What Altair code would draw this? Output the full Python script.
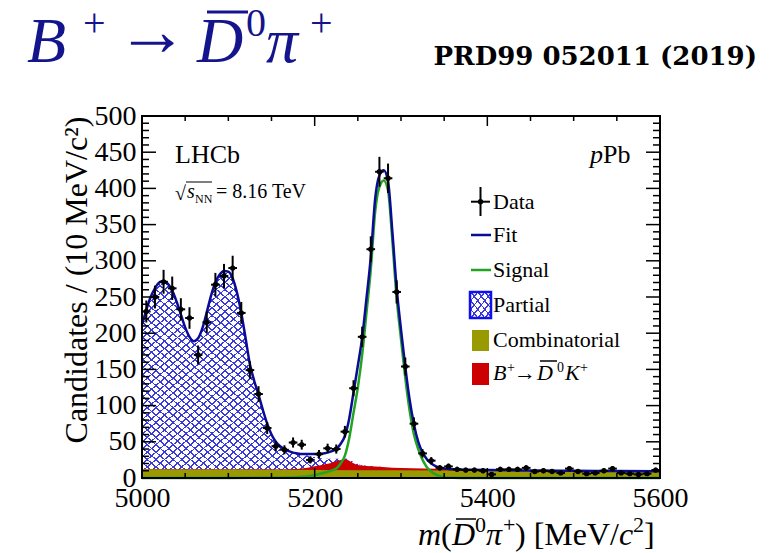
import altair as alt
import pandas as pd

# ---------------- values ----------------
bin_centre = [5005, 5015, 5025, 5035, 5045, 5055, 5065, 5075, 5085, 5095,
              5105, 5115, 5125, 5135, 5145, 5155, 5165, 5175, 5185, 5195,
              5205, 5215, 5225, 5235, 5245, 5255, 5265, 5275, 5285, 5295,
              5305, 5315, 5325, 5335, 5345, 5355, 5365, 5375, 5385, 5395,
              5405, 5415, 5425, 5435, 5445, 5455, 5465, 5475, 5485, 5495,
              5505, 5515, 5525, 5535, 5545, 5555, 5565, 5575, 5585, 5595]
counts = [230, 250, 271, 262, 233, 221, 170, 215, 267, 279,
          290, 228, 149, 116, 69, 44, 39, 49, 46, 25,
          33, 41, 40, 64, 124, 195, 316, 423, 414, 257,
          154, 75, 34, 24, 14, 16, 12, 11, 11, 10,
          5, 12, 12, 12, 14, 9, 10, 9, 7, 13,
          9, 6, 7, 10, 13, 7, 6, 5, 6, 11]
errors = [15.2, 15.8, 16.5, 16.2, 15.3, 14.9, 13.0, 14.7, 16.3, 16.7,
          17.0, 15.1, 12.2, 10.8, 8.3, 6.6, 6.2, 7.0, 6.8, 5.0,
          5.7, 6.4, 6.3, 8.0, 11.1, 14.0, 17.8, 20.6, 20.3, 16.0,
          12.4, 8.7, 5.8, 4.9, 3.7, 4.0, 3.5, 3.3, 3.3, 3.2,
          2.2, 3.5, 3.5, 3.5, 3.7, 3.0, 3.2, 3.0, 2.6, 3.6,
          3.0, 2.4, 2.6, 3.2, 3.6, 2.6, 2.4, 2.2, 2.4, 3.3]
half_bin = 5

fit_x = list(range(5000, 5361, 5)) + [5380, 5400, 5450, 5500, 5550, 5600]
fit_y = [212, 232, 250, 262, 270, 272, 268, 259, 244, 226,
         208, 195, 189, 193, 207, 229, 252, 270, 281, 286,
         285, 276, 256, 228, 193, 157, 134, 115, 94, 75,
         60, 50, 44, 40, 37, 35, 34, 33, 33, 33,
         33, 33, 34, 35, 37, 40, 47, 58, 82, 118,
         155, 194, 248, 305, 385, 418, 425, 410, 340, 262,
         205, 153, 108, 74, 50, 35, 26, 20, 16.5, 14.5,
         13.2, 12.5, 12.0,
         11.3, 10.9, 10.4, 10.0, 9.6, 9.3]

sig_x = [5000, 5100, 5150, 5170, 5180, 5190, 5200, 5210, 5220, 5225,
         5230, 5235, 5240, 5245, 5250, 5255, 5260, 5265, 5270, 5275,
         5280, 5285, 5290, 5295, 5300, 5305, 5310, 5315, 5320, 5325,
         5330, 5335, 5340, 5345, 5350, 5360, 5380, 5400, 5600]
sig_y = [0, 0.1, 0.4, 0.8, 1.2, 2, 4, 7, 10.5, 13,
         20, 31, 55, 90, 125, 170, 228, 288, 367, 402,
         411, 397, 328, 248, 192, 138, 93, 60, 40, 25,
         15, 9, 5, 2.5, 1.2, 0.3, 0, 0, 0]

part_x = list(range(5000, 5251, 5)) + [5260, 5270, 5280]
part_top = [212, 232, 250, 262, 270, 272, 268, 259, 244, 226,
            208, 195, 189, 193, 207, 229, 252, 270, 281, 286,
            285, 276, 256, 228, 193, 157, 134, 115, 94, 75,
            60, 50, 44, 40, 37, 34.5, 33, 32, 31, 30,
            29, 28, 27, 26.5, 26.5, 26.5, 27, 27, 25.5, 22,
            19.5, 17, 16, 15]

red_x = [5000, 5100, 5160, 5175, 5185, 5195, 5205, 5212, 5218, 5226,
         5234, 5238, 5242, 5248, 5255, 5265, 5275, 5290, 5313, 5340,
         5370, 5400, 5500, 5600]
red_top = [12.4, 12.0, 11.9, 12.3, 13.2, 15, 17.2, 19, 20.5, 23.5,
           26, 25.2, 22.3, 18.7, 17.3, 16.2, 15.4, 14.3, 13.6, 12.7,
           11.5, 10.8, 10.1, 9.5]

comb_x = [5000, 5100, 5200, 5300, 5400, 5500, 5600]
comb_top = [12, 11.6, 11.2, 10.8, 10.3, 9.8, 9.3]

x_labels = [5000, 5200, 5400, 5600]
y_labels = [0, 50, 100, 150, 200, 250, 300, 350, 400, 450, 500]
x_major_ticks = [5000, 5200, 5400, 5600]
x_minor_ticks = [v for v in range(5000, 5601, 50) if v not in x_major_ticks]
y_major_ticks = list(range(0, 501, 50))
y_minor_ticks = [v for v in range(0, 501, 10) if v % 50 != 0]

legend_rows = ["Data", "Fit", "Signal", "Partial", "Combinatorial"]

# ---------------- styling ----------------
W, H = 518, 362
SERIF = "Liberation Serif"
NAVY = "#0b0b96"
GREEN = "#22a322"
OLIVE = "#999900"
RED = "#cc0000"
HATCH = "#3a3ad8"
TITLE_C = "#14148c"
CLEAR = "rgba(255,255,255,0)"

XS = alt.Scale(domain=[5000, 5600], nice=False, zero=False)
YS = alt.Scale(domain=[0, 500], nice=False)
XAX = alt.Axis(values=x_labels, format="d", ticks=False, domain=False, grid=False,
               labelFont=SERIF, labelFontSize=28, labelColor="black", labelFlush=False,
               labelPadding=6, labelOverlap=False, title=None)
YAX = alt.Axis(values=y_labels, format="d", ticks=False, domain=False, grid=False,
               labelFont=SERIF, labelFontSize=28, labelColor="black", labelFlush=False,
               labelPadding=6, labelOverlap=False, title=None)


def X(f):
    return alt.X(f, type="quantitative", scale=XS, axis=XAX)


def Y(f):
    return alt.Y(f, type="quantitative", scale=YS, axis=YAX)


def hatch(n, frac, flip):
    stops = []
    for k in range(n):
        a = k / n
        b = (k + frac) / n
        stops += [alt.GradientStop(color=CLEAR, offset=a),
                  alt.GradientStop(color=HATCH, offset=a),
                  alt.GradientStop(color=HATCH, offset=b),
                  alt.GradientStop(color=CLEAR, offset=b)]
    if flip:
        return alt.LinearGradient(gradient="linear", stops=stops, x1=0, y1=1, x2=1, y2=0)
    return alt.LinearGradient(gradient="linear", stops=stops, x1=0, y1=0, x2=1, y2=1)


ONE = pd.DataFrame({"k": [0]})


def txt(s, x, y, size, style="normal", weight="normal", font=SERIF, color="black",
        align="left", angle=0):
    return alt.Chart(ONE).mark_text(text=s, align=align, baseline="alphabetic", font=font,
                                    fontSize=size, fontStyle=style, fontWeight=weight,
                                    color=color, angle=angle).encode(
        x=alt.value(x), y=alt.value(y))


def seg(x1, y1, x2, y2, color="black", width=2):
    return alt.Chart(ONE).mark_rule(color=color, strokeWidth=width).encode(
        x=alt.value(x1), y=alt.value(y1), x2=alt.value(x2), y2=alt.value(y2))


def box(x1, y1, x2, y2, fill, stroke=None, sw=0):
    kw = dict(fill=fill)
    if stroke is not None:
        kw.update(stroke=stroke, strokeWidth=sw)
    return alt.Chart(ONE).mark_rect(**kw).encode(
        x=alt.value(x1), y=alt.value(y1), x2=alt.value(x2), y2=alt.value(y2))


# ---------------- tables ----------------
data = pd.DataFrame({"m": bin_centre, "n": counts, "e": errors})
data["lo"] = data["n"] - data["e"]
data["hi"] = data["n"] + data["e"]
data["ml"] = data["m"] - half_bin
data["mh"] = data["m"] + half_bin

fit = pd.DataFrame({"m": fit_x, "v": fit_y})
sig = pd.DataFrame({"m": sig_x, "v": sig_y})
part = pd.DataFrame({"m": part_x, "v": part_top})
red = pd.DataFrame({"m": red_x, "v": red_top})
comb = pd.DataFrame({"m": comb_x, "v": comb_top})

layers = []
# partial background: cross-hatch made of two striped gradients
layers.append(alt.Chart(part).mark_area(color=hatch(56, 0.22, False), interpolate="monotone")
              .encode(x=X("m"), y=Y("v")))
layers.append(alt.Chart(part).mark_area(color=hatch(56, 0.22, True), interpolate="monotone")
              .encode(x=X("m"), y=Y("v")))
layers.append(alt.Chart(red).mark_area(color=RED, interpolate="monotone")
              .encode(x=X("m"), y=Y("v")))
layers.append(alt.Chart(comb).mark_area(color=OLIVE, interpolate="monotone")
              .encode(x=X("m"), y=Y("v")))
layers.append(alt.Chart(sig).mark_line(color=GREEN, strokeWidth=2.5, interpolate="monotone")
              .encode(x=X("m"), y=Y("v")))
layers.append(alt.Chart(fit).mark_line(color=NAVY, strokeWidth=2.5, interpolate="monotone")
              .encode(x=X("m"), y=Y("v")))
# data points
layers.append(alt.Chart(data).mark_rule(color="black", strokeWidth=2)
              .encode(x=X("m"), y=Y("lo"), y2="hi"))
layers.append(alt.Chart(data).mark_rule(color="black", strokeWidth=2)
              .encode(x=X("ml"), x2="mh", y=Y("n")))
layers.append(alt.Chart(data).mark_point(filled=True, shape="circle", size=28, color="black", opacity=1)
              .encode(x=X("m"), y=Y("n")))

# ticks (inward, on all four sides)
for vals, ln in [(x_major_ticks, 10), (x_minor_ticks, 5)]:
    t = pd.DataFrame({"t": vals})
    layers.append(alt.Chart(t).mark_rule(color="black", strokeWidth=1.5)
                  .encode(x=X("t"), y=alt.value(H), y2=alt.value(H - ln)))
    layers.append(alt.Chart(t).mark_rule(color="black", strokeWidth=1.5)
                  .encode(x=X("t"), y=alt.value(0), y2=alt.value(ln)))
for vals, ln in [(y_major_ticks, 14), (y_minor_ticks, 7)]:
    t = pd.DataFrame({"t": vals})
    layers.append(alt.Chart(t).mark_rule(color="black", strokeWidth=1.5)
                  .encode(y=Y("t"), x=alt.value(0), x2=alt.value(ln)))
    layers.append(alt.Chart(t).mark_rule(color="black", strokeWidth=1.5)
                  .encode(y=Y("t"), x=alt.value(W), x2=alt.value(W - ln)))
# frame
layers.append(box(0, 0, W, H, "transparent", "black", 2))

# ---------------- texts ----------------
# page title  B+ -> D0bar pi+
layers += [
    txt("B", -115, -54, 64, style="italic", color=TITLE_C),
    txt("+", -59, -80, 40, color=TITLE_C),
    txt("\u2192", -26, -61, 72, color=TITLE_C),
    txt("D", 55, -54, 64, style="italic", color=TITLE_C),
    seg(65, -104, 106, -104, TITLE_C, 3),
    txt("0", 104, -80, 40, color=TITLE_C),
    txt("\u03c0", 124, -54, 64, style="italic", color=TITLE_C),
    txt("+", 168, -80, 40, color=TITLE_C),
    txt("PRD99 052011 (2019)", 615, -51, 26, weight="bold", font="DejaVu Serif", align="right"),
]
# in-plot labels
layers += [
    txt("LHCb", 33, 47, 26),
    txt("\u221a", 33, 84, 20),
    seg(44, 66, 70, 66, "black", 1),
    txt("s", 45, 82, 20, style="italic"),
    txt("NN", 53, 87, 12),
    txt("= 8.16 TeV", 74, 82, 20),
    txt("p", 448, 47, 26, style="italic"),
    txt("Pb", 461, 47, 26),
]
# legend
layers += [
    seg(329, 85.7, 348, 85.7, "black", 2),
    seg(338.5, 71, 338.5, 100, "black", 2),
    alt.Chart(ONE).mark_point(filled=True, shape="circle", size=28, color="black", opacity=1)
    .encode(x=alt.value(338.5), y=alt.value(85.7)),
    seg(329, 119, 349, 119, NAVY, 2.5),
    seg(329, 154, 349, 154, GREEN, 2.5),
    box(328, 176, 349, 202, hatch(6, 0.22, False)),
    box(328, 176, 349, 202, hatch(6, 0.22, True)),
    box(328, 176, 349, 202, "transparent", "#1010ee", 2.5),
    box(330, 214, 347, 235, OLIVE),
    box(330, 247, 347, 269, RED),
]
for i, lab in enumerate(legend_rows):
    layers.append(txt(lab, 351, [93, 126, 161, 196, 231][i], 22))
layers += [
    txt("B", 351, 264, 22, style="italic"),
    txt("+", 365, 256, 14),
    txt("\u2192", 372, 264, 22),
    txt("D", 395, 264, 22, style="italic"),
    seg(398, 245, 415, 245, "black", 1.5),
    txt("0", 415, 256, 14),
    txt("K", 423, 264, 22, style="italic"),
    txt("+", 438, 256, 14),
]
# axis titles
layers += [
    txt("Candidates / (10 MeV/c\u00b2)", -55, 164, 32, align="center", angle=270),
    txt("m", 276, 429, 32, style="italic"),
    txt("(", 299, 429, 32),
    txt("D", 310, 429, 32, style="italic"),
    seg(314, 403, 334, 403, "black", 1.5),
    txt("0", 333, 416, 22),
    txt("\u03c0", 344, 429, 32, style="italic"),
    txt("+", 361, 416, 22),
    txt(") [MeV/", 373, 429, 32),
    txt("c", 477, 429, 32, style="italic"),
    txt("2", 491, 416, 22),
    txt("]", 502, 429, 32),
]

chart = alt.layer(*layers).properties(
    width=W, height=H, autosize="none",
    padding={"left": 134, "top": 108, "right": 100, "bottom": 75},
    background="white",
).configure_view(strokeWidth=0)

chart.save("out.html", embed_options={"renderer": "svg", "actions": False})
